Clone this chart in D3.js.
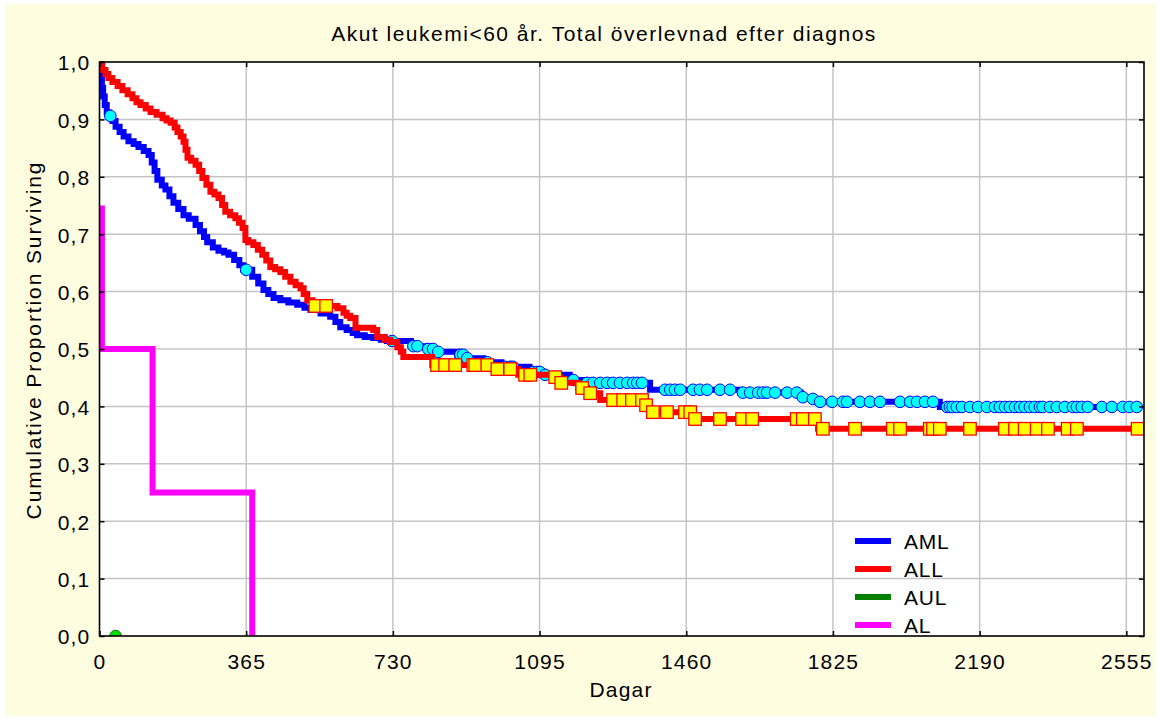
<!DOCTYPE html>
<html><head><meta charset="utf-8">
<script src="https://cdn.jsdelivr.net/npm/d3@7"></script>
<style>
body{margin:0;background:#ffffff}
svg{display:block;font-family:"Liberation Sans",Arial,sans-serif}
</style>
</head><body>
<svg id="c" width="1160" height="720"></svg>
<script>
// ---------- data ----------
const chartTitle = "Akut leukemi<60 år. Total överlevnad efter diagnos";
const xLabel = "Dagar";
const yLabel = "Cumulative Proportion Surviving";
const xTicks = [0, 365, 730, 1095, 1460, 1825, 2190, 2555];
const yTicks = [0, 0.1, 0.2, 0.3, 0.4, 0.5, 0.6, 0.7, 0.8, 0.9, 1.0];
const seriesNames = ["AML", "ALL", "AUL", "AL"];

// AML: event days and survival after each event, censored days
const amlTimes = [2,4,6,9,13,18,24,32,40,50,60,72,85,97,110,122,130,137,144,155,164,174,184,196,209,222,239,250,260,268,282,296,310,321,335,348,358,380,395,408,420,433,450,470,492,510,525,550,574,587,599,615,630,641,660,681,700,715,775,815,840,890,910,955,1000,1070,1100,1170,1205,1370,1594,1745,1770,1790,2091];
const amlSurv  = [0.985,0.97,0.955,0.94,0.925,0.912,0.906,0.897,0.887,0.878,0.870,0.862,0.857,0.852,0.845,0.838,0.825,0.810,0.795,0.785,0.778,0.766,0.755,0.744,0.733,0.727,0.716,0.705,0.695,0.686,0.677,0.671,0.668,0.664,0.655,0.646,0.638,0.626,0.614,0.603,0.596,0.589,0.585,0.581,0.577,0.572,0.568,0.562,0.556,0.547,0.538,0.533,0.528,0.524,0.521,0.519,0.516,0.514,0.505,0.500,0.495,0.490,0.484,0.477,0.469,0.460,0.455,0.446,0.441,0.429,0.424,0.416,0.413,0.408,0.399];
const amlCensored = [27,365,728,781,791,818,830,843,898,905,915,965,1009,1022,1029,1079,1089,1096,1109,1179,1213,1228,1246,1263,1278,1295,1313,1328,1338,1350,1407,1420,1432,1445,1477,1494,1512,1544,1569,1601,1619,1639,1651,1661,1681,1711,1735,1750,1775,1793,1823,1850,1860,1892,1917,1942,1992,2017,2034,2054,2074,2109,2116,2123,2133,2146,2166,2186,2208,2228,2240,2253,2265,2278,2290,2302,2315,2327,2340,2347,2365,2382,2402,2422,2432,2444,2459,2494,2519,2546,2563,2581];

// ALL
const allTimes = [3,7,15,22,32,45,57,70,82,92,102,115,127,142,157,167,177,187,194,202,209,214,219,228,239,248,256,266,276,286,296,305,313,325,338,347,356,363,370,383,394,405,415,425,437,450,462,475,488,500,508,517,530,592,607,615,624,637,681,691,710,724,741,750,756,828,980,1042,1130,1146,1191,1213,1246,1355,1370,1474,1788];
const allSurv  = [0.993,0.986,0.979,0.972,0.965,0.958,0.951,0.944,0.937,0.930,0.925,0.919,0.913,0.908,0.902,0.898,0.894,0.886,0.878,0.870,0.861,0.847,0.833,0.828,0.821,0.810,0.798,0.786,0.774,0.769,0.763,0.751,0.739,0.733,0.728,0.720,0.711,0.690,0.686,0.681,0.673,0.664,0.654,0.643,0.639,0.634,0.626,0.617,0.611,0.606,0.596,0.585,0.575,0.571,0.563,0.558,0.554,0.537,0.533,0.521,0.516,0.512,0.503,0.495,0.486,0.472,0.465,0.455,0.451,0.441,0.432,0.423,0.411,0.402,0.390,0.378,0.361];
const allCensored = [537,564,840,860,885,930,935,965,990,1022,1059,1072,1134,1149,1201,1221,1278,1303,1325,1350,1360,1377,1412,1457,1470,1482,1544,1599,1624,1735,1750,1780,1800,1880,1974,1992,2066,2074,2091,2166,2253,2278,2302,2332,2360,2409,2432,2583];

// AUL: single censored case shown at 0
const aulTimes = [0];
const aulSurv = [0];
const aulCensored = [40];

// AL: steps (first point is starting level)
const alTimes = [6, 6, 132, 380];
const alSurv = [0.75, 0.5, 0.25, 0];

// ---------- drawing ----------
const W = 1160, H = 720;
const svg = d3.select("#c");
const pL = 99.5, pR = 1144, pT = 62, pB = 636;
const x = d3.scaleLinear().domain([0, 2599]).range([pL, pR]);
const y = d3.scaleLinear().domain([0, 1]).range([pB, pT]);
const fmt = d3.formatLocale({decimal: ",", thousands: " ", grouping: [3], currency: ["", ""]}).format(".1f");

svg.append("rect").attr("x", 0).attr("y", 0).attr("width", W).attr("height", H).attr("fill", "#ffffff");
svg.append("rect").attr("x", 5).attr("y", 4).attr("width", 1151).attr("height", 712).attr("fill", "#fffde0");
svg.append("rect").attr("x", pL).attr("y", pT).attr("width", pR - pL).attr("height", pB - pT).attr("fill", "#ffffff");

// grid
const grid = svg.append("g").attr("stroke", "#c4c4c4").attr("stroke-width", 1.5);
grid.selectAll("line.v").data(xTicks.filter(d => d > 0)).join("line")
  .attr("x1", d => x(d)).attr("x2", d => x(d)).attr("y1", pT).attr("y2", pB);
grid.selectAll("line.h").data(yTicks.filter(d => d > 0 && d < 1)).join("line")
  .attr("x1", pL).attr("x2", pR).attr("y1", d => y(d)).attr("y2", d => y(d));

// clip
svg.append("clipPath").attr("id", "clip").append("rect")
  .attr("x", pL).attr("y", pT - 1).attr("width", pR - pL).attr("height", pB - pT + 1);
const plot = svg.append("g").attr("clip-path", "url(#clip)");

function survAt(times, surv, d) {
  let v = 1;
  for (let i = 0; i < times.length; i++) { if (times[i] <= d) v = surv[i]; }
  return v;
}
const line = d3.line().x(d => x(d[0])).y(d => y(d[1])).curve(d3.curveStepAfter);

function kmPoints(times, surv, censored) {
  const pts = [[0, 1]];
  times.forEach((t, i) => pts.push([t, surv[i]]));
  const end = Math.max(d3.max(censored), d3.max(times));
  pts.push([end, surv[surv.length - 1]]);
  return pts;
}

// AML
plot.append("path").datum(kmPoints(amlTimes, amlSurv, amlCensored))
  .attr("d", line).attr("fill", "none").attr("stroke", "#0000ff").attr("stroke-width", 6);
plot.selectAll("circle.aml").data(amlCensored).join("circle")
  .attr("cx", d => x(d)).attr("cy", d => y(survAt(amlTimes, amlSurv, d)))
  .attr("r", 5.8).attr("fill", "#00ffff").attr("stroke", "#0000ff").attr("stroke-width", 1);

// ALL
plot.append("path").datum(kmPoints(allTimes, allSurv, allCensored))
  .attr("d", line).attr("fill", "none").attr("stroke", "#ff0000").attr("stroke-width", 6);
const sq = 12.5;
plot.selectAll("rect.all").data(allCensored).join("rect")
  .attr("x", d => x(d) - sq / 2).attr("y", d => y(survAt(allTimes, allSurv, d)) - sq / 2)
  .attr("width", sq).attr("height", sq)
  .attr("fill", "#ffff00").attr("stroke", "#ff0000").attr("stroke-width", 1.3);

// AUL
plot.selectAll("circle.aul").data(aulCensored).join("circle")
  .attr("cx", d => x(d)).attr("cy", d => y(survAt(aulTimes, aulSurv, d)))
  .attr("r", 5.8).attr("fill", "#00e000").attr("stroke", "#007000").attr("stroke-width", 1);

// AL
plot.append("path").datum(alTimes.map((t, i) => [t, alSurv[i]]))
  .attr("d", line).attr("fill", "none").attr("stroke", "#ff00ff").attr("stroke-width", 6);

// frame + axes
svg.append("rect").attr("x", pL).attr("y", pT).attr("width", pR - pL).attr("height", pB - pT)
  .attr("fill", "none").attr("stroke", "#000").attr("stroke-width", 1.6);

const tickFont = g => g.selectAll("text").attr("font-size", 21).attr("fill", "#000")
  .attr("font-family", "'Liberation Sans',Arial,sans-serif").style("letter-spacing", "1.2px");

const xAxis = svg.append("g").attr("transform", `translate(0,${pB})`)
  .call(d3.axisBottom(x).tickValues(xTicks).tickSize(-5).tickPadding(18).tickFormat(d3.format("d")));
xAxis.select(".domain").remove();
xAxis.selectAll("line").attr("stroke", "#000").attr("stroke-width", 1.5);
xAxis.call(tickFont);

const yAxis = svg.append("g").attr("transform", `translate(${pL},0)`)
  .call(d3.axisLeft(y).tickValues(yTicks).tickSize(-5).tickPadding(9).tickFormat(fmt));
yAxis.select(".domain").remove();
yAxis.selectAll("line").attr("stroke", "#000").attr("stroke-width", 1.5);
yAxis.call(tickFont);
yAxis.selectAll("text").attr("dy", "0.38em");

const xTop = svg.append("g").attr("transform", `translate(0,${pT})`)
  .call(d3.axisTop(x).tickValues(xTicks).tickSize(-5).tickFormat(""));
xTop.select(".domain").remove();
xTop.selectAll("line").attr("stroke", "#000").attr("stroke-width", 1.5);
const yRight = svg.append("g").attr("transform", `translate(${pR},0)`)
  .call(d3.axisRight(y).tickValues(yTicks).tickSize(-5).tickFormat(""));
yRight.select(".domain").remove();
yRight.selectAll("line").attr("stroke", "#000").attr("stroke-width", 1.5);

// titles
svg.append("text").attr("x", 604).attr("y", 41).attr("text-anchor", "middle")
  .attr("font-size", 21).style("letter-spacing", "1.5px").text(chartTitle);
svg.append("text").attr("x", 621).attr("y", 697).attr("text-anchor", "middle")
  .attr("font-size", 21).style("letter-spacing", "1.2px").text(xLabel);
svg.append("text").attr("transform", "translate(41,340) rotate(-90)").attr("text-anchor", "middle")
  .attr("font-size", 21).style("letter-spacing", "1.9px").text(yLabel);

// legend
const legendColors = ["#0000ff", "#ff0000", "#008000", "#ff00ff"];
const lg = svg.append("g");
seriesNames.forEach((n, i) => {
  const ly = 541 + i * 28;
  lg.append("line").attr("x1", 855).attr("x2", 891).attr("y1", ly).attr("y2", ly)
    .attr("stroke", legendColors[i]).attr("stroke-width", 6);
  lg.append("text").attr("x", 904).attr("y", ly + 8).attr("font-size", 21)
    .style("letter-spacing", "0.8px").text(n);
});
</script>
</body></html>
